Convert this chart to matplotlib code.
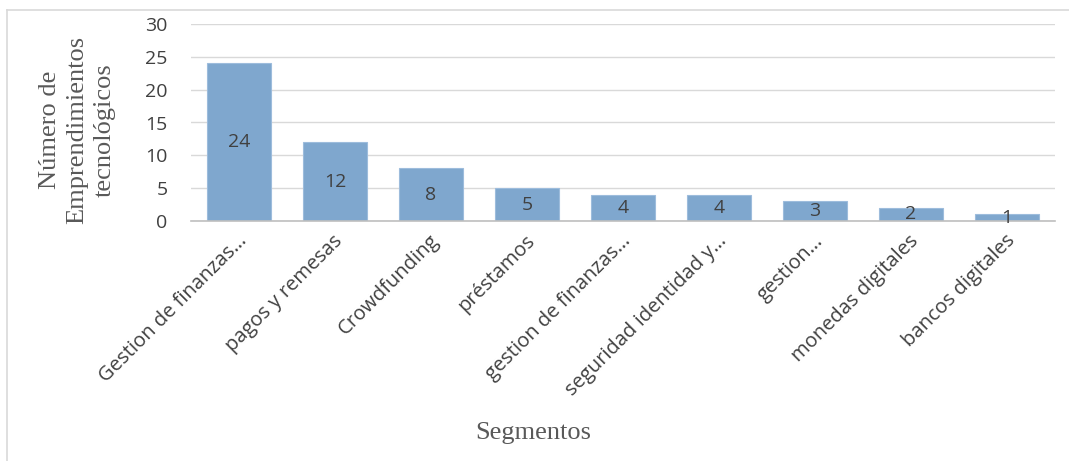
import matplotlib
matplotlib.use('Agg')
import matplotlib.pyplot as plt
from matplotlib.lines import Line2D
from matplotlib.transforms import ScaledTranslation

# ─── Data ─────────────────────────────────────────────────────────────────────
SEGMENTOS = [
    'Gestion de finanzas…',
    'pagos y remesas',
    'Crowdfunding',
    'préstamos',
    'gestion de finanzas…',
    'seguridad identidad y…',
    'gestion…',
    'monedas digitales',
    'bancos digitales',
]
EMPRENDIMIENTOS = [24, 12, 8, 5, 4, 4, 3, 2, 1]
Y_TICKS = [0, 5, 10, 15, 20, 25, 30]

BAR_COLOR  = '#7fa7ce'
EDGE_COLOR = '#9dbcdc'
TEXT_COLOR = '#404040'
TITLE_GRAY = '#595959'
SANS  = ['Open Sans', 'DejaVu Sans']
SERIF = ['Liberation Serif', 'DejaVu Serif']
W, H = 1069, 461

fig = plt.figure(figsize=(W / 100, H / 100), dpi=100)
ax = fig.add_axes([191 / W, 1 - 221 / H, 864 / W, 197 / H])

x = list(range(len(SEGMENTOS)))
ax.bar(x, EMPRENDIMIENTOS, width=0.667, color=BAR_COLOR,
       edgecolor=EDGE_COLOR, linewidth=0.8, zorder=2)

# value labels, centred inside each bar
for xi, v in zip(x, EMPRENDIMIENTOS):
    ax.text(xi, v / 2, str(v), ha='center', va='center', fontsize=14,
            color=TEXT_COLOR, family=SANS, zorder=3)

ax.set_xlim(-0.5, len(SEGMENTOS) - 0.5)
ax.set_ylim(0, 30)
ax.set_yticks(Y_TICKS)
ax.set_yticklabels([str(t) for t in Y_TICKS], family=SANS, fontsize=14,
                   color=TEXT_COLOR)
ax.set_xticks(x)
ax.set_xticklabels(SEGMENTOS, rotation=45, ha='right', va='center',
                   rotation_mode='anchor', family=SANS, fontsize=14.5,
                   color=TEXT_COLOR)
ax.tick_params(axis='both', length=0)
ax.tick_params(axis='y', pad=17)
ax.tick_params(axis='x', pad=0)
# Excel puts the end of each slanted label a little right of and below the bar centre
shift = ScaledTranslation(5 / 100, -17 / 100, fig.dpi_scale_trans)
for lbl in ax.get_xticklabels():
    lbl.set_transform(lbl.get_transform() + shift)

ax.grid(axis='y', color='#d9d9d9', linewidth=1, zorder=0)
ax.set_axisbelow(True)
for side in ('top', 'right', 'left'):
    ax.spines[side].set_visible(False)
ax.spines['bottom'].set_color('#bfbfbf')
ax.spines['bottom'].set_linewidth(1.2)

# axis titles
fig.text(77 / W, 1 - 130 / H, 'Número de\nEmprendimientos\ntecnológicos',
         rotation=90, ha='center', va='center', multialignment='center',
         family=SERIF, fontsize=19, color=TITLE_GRAY, linespacing=1.32)
fig.text(533 / W, 1 - 433 / H, 'Segmentos', ha='center', va='center',
         family=SERIF, fontsize=19, color=TITLE_GRAY)

# chart frame (only the left and top edges show in the original)
fig.add_artist(Line2D([7 / W, 7 / W], [0, 1 - 10 / H],
                      transform=fig.transFigure, color='#d9d9d9', linewidth=1.2))
fig.add_artist(Line2D([7 / W, 1], [1 - 10 / H, 1 - 10 / H],
                      transform=fig.transFigure, color='#d9d9d9', linewidth=1.2))

fig.savefig('out.png', dpi=100, facecolor='white')
